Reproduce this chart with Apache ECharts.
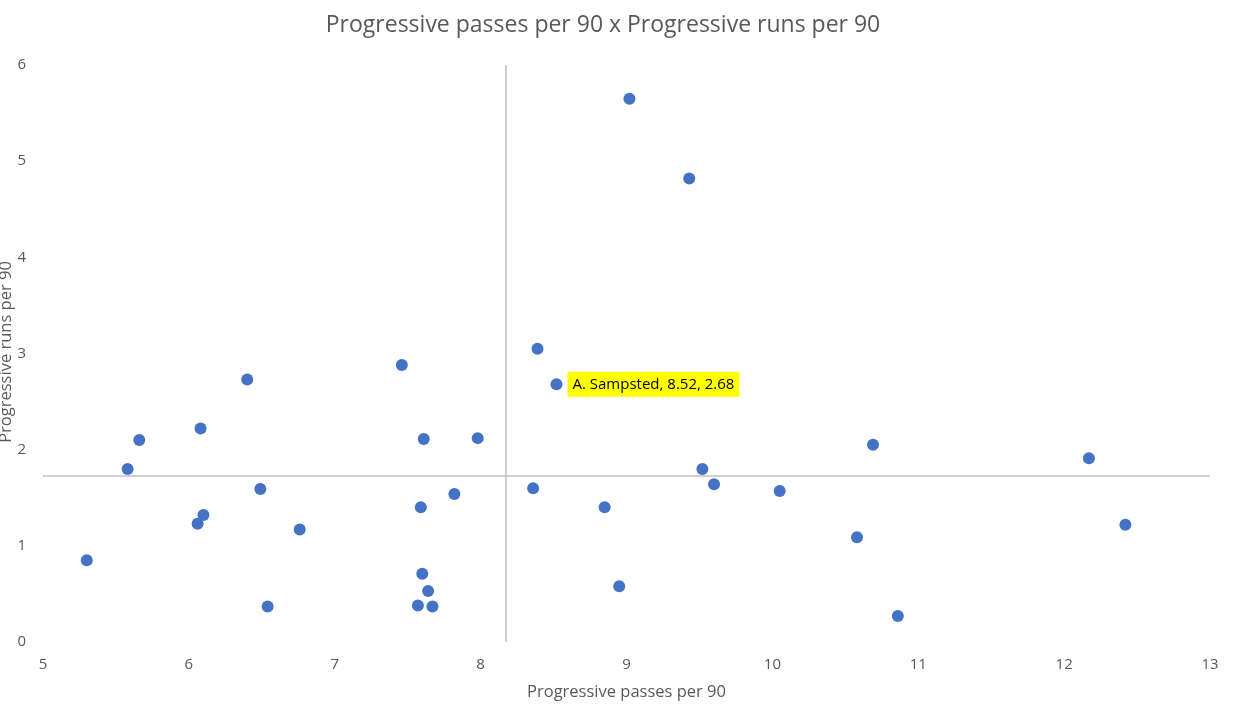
<!DOCTYPE html>
<html>
<head>
<meta charset="utf-8">
<script src="https://cdn.jsdelivr.net/npm/echarts@6/dist/echarts.min.js"></script>
<style>
html,body{margin:0;padding:0;background:#fff;}
#chart{width:1236px;height:724px;}
</style>
</head>
<body>
<div id="chart"></div>
<script>
var passesPer90 = [9.02, 9.43, 8.39, 8.52, 7.46, 6.40, 6.08, 5.66, 7.61, 7.98, 5.58, 6.49, 7.82, 8.36, 7.59, 8.85, 6.10, 6.06, 6.76, 5.30, 7.60, 7.64, 6.54, 7.57, 7.67, 8.95, 9.52, 9.60, 10.05, 10.69, 10.58, 10.86, 12.17, 12.42];
var runsPer90   = [5.65, 4.82, 3.05, 2.68, 2.88, 2.73, 2.22, 2.10, 2.11, 2.12, 1.80, 1.59, 1.54, 1.60, 1.40, 1.40, 1.32, 1.23, 1.17, 0.85, 0.71, 0.53, 0.37, 0.38, 0.37, 0.58, 1.80, 1.64, 1.57, 2.05, 1.09, 0.27, 1.91, 1.22];
var labelledPlayer = {index: 3, name: 'A. Sampsted'};
var crossX = 8.17;
var crossY = 1.73;
var yAxisTitle = 'Progressive runs per 90';

var FONT = 'Open Sans';
var data = passesPer90.map(function (x, i) {
  var item = {value: [x, runsPer90[i]]};
  if (i === labelledPlayer.index) {
    item.label = {
      show: true,
      position: 'right',
      distance: 5,
      formatter: labelledPlayer.name + ', ' + x.toFixed(2) + ', ' + runsPer90[i].toFixed(2),
      backgroundColor: '#FFFF00',
      color: '#000',
      fontFamily: FONT,
      fontSize: 15,
      padding: [5, 5, 5, 5]
    };
  }
  return item;
});

var chart = echarts.init(document.getElementById('chart'), null, {renderer: 'canvas'});
chart.setOption({
  animation: false,
  backgroundColor: '#fff',
  title: {
    text: 'Progressive passes per 90 x Progressive runs per 90',
    left: 598, top: 9, textAlign: 'center',
    textStyle: {fontFamily: FONT, fontSize: 23, fontWeight: 'normal', color: '#595959'}
  },
  graphic: [{
    type: 'text',
    x: 6, y: 352,
    rotation: Math.PI / 2,
    style: {
      text: yAxisTitle,
      fontFamily: FONT, fontSize: 16.5, fill: '#595959',
      align: 'center', verticalAlign: 'middle'
    }
  }],
  grid: {left: 43, right: 26, top: 65, bottom: 82, containLabel: false, outerBoundsMode: 'none'},
  xAxis: {
    type: 'value', min: 5, max: 13, interval: 1,
    name: 'Progressive passes per 90', nameLocation: 'middle', nameGap: 42,
    nameTextStyle: {fontFamily: FONT, fontSize: 16.5, color: '#595959'},
    axisLine: {show: false}, axisTick: {show: false}, splitLine: {show: false},
    axisLabel: {fontFamily: FONT, fontSize: 15, color: '#595959', margin: 15}
  },
  yAxis: {
    type: 'value', min: 0, max: 6, interval: 1,
    axisLine: {show: false}, axisTick: {show: false}, splitLine: {show: false},
    axisLabel: {fontFamily: FONT, fontSize: 15, color: '#595959', margin: 17}
  },
  series: [{
    type: 'scatter',
    symbolSize: 12,
    itemStyle: {color: '#4472C4', opacity: 1},
    data: data,
    markLine: {
      silent: true, symbol: 'none', label: {show: false},
      lineStyle: {color: '#BFBFBF', type: 'solid', width: 1.5},
      data: [{xAxis: crossX}, {yAxis: crossY}]
    },
    z: 3
  }]
});
</script>
</body>
</html>
